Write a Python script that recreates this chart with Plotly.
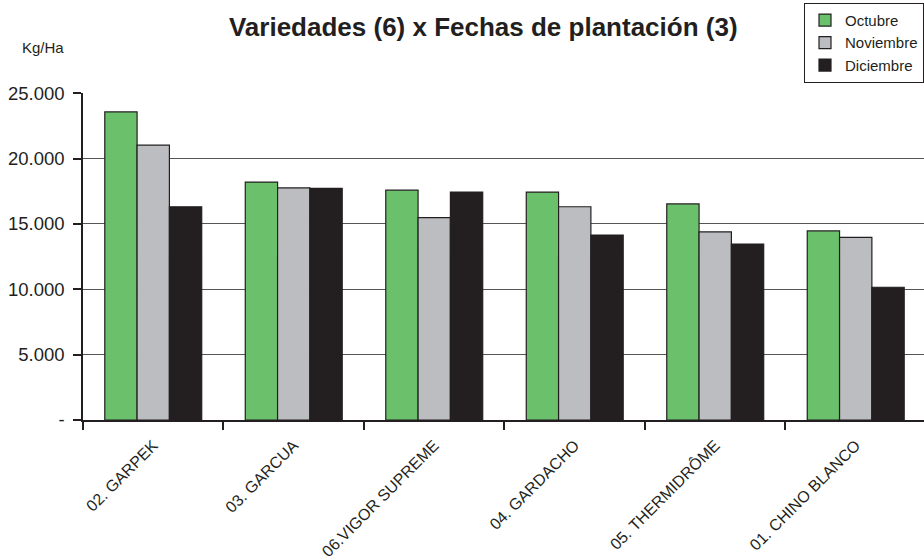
import plotly.graph_objects as go

categories = ["02. GARPEK", "03. GARCUA", "06.VIGOR SUPREME", "04. GARDACHO",
              "05. THERMIDRÔME", "01. CHINO BLANCO"]
octubre = [23580, 18210, 17590, 17440, 16540, 14470]
noviembre = [21030, 17760, 15490, 16320, 14390, 13970]
diciembre = [16320, 17720, 17440, 14160, 13470, 10160]
series_names = ["Octubre", "Noviembre", "Diciembre"]
series_colors = ["#6BC16B", "#BCBDC0", "#231F20"]
ytick_vals = [0, 5000, 10000, 15000, 20000, 25000]
ytick_text = ["-", "5.000", "10.000", "15.000", "20.000", "25.000"]

fig = go.Figure()
for name, vals, col in zip(series_names, [octubre, noviembre, diciembre], series_colors):
    fig.add_trace(go.Bar(
        x=categories, y=vals, name=name,
        marker=dict(color=col, line=dict(color="#231F20", width=1.2)),
    ))

fig.update_layout(
    width=924, height=560,
    margin=dict(l=83, r=0, t=87, b=139),
    paper_bgcolor="white", plot_bgcolor="white",
    barmode="group", bargap=0.31, bargroupgap=0,
    font=dict(family="Liberation Sans, Arial, sans-serif", color="#231F20"),
    title=dict(text="<b>Variedades (6) x Fechas de plantación (3)</b>",
               x=0.523, xanchor="center", y=0.952, yanchor="middle",
               font=dict(size=26, color="#231F20")),
    showlegend=True,
    legend=dict(x=0.8855, xref="paper", y=0.995, yref="container",
                xanchor="left", yanchor="top",
                bordercolor="#231F20", borderwidth=1, bgcolor="white",
                font=dict(size=15), itemwidth=30, tracegroupgap=0,
                entrywidth=0),
    xaxis=dict(
        range=[-0.5, 5.486], showline=True, linecolor="#231F20", linewidth=1.5,
        ticks="outside", tickson="boundaries", ticklen=8, tickcolor="#231F20",
        tickwidth=1.5, tickangle=-45, tickfont=dict(size=16), showgrid=False,
        ticklabelstandoff=8,
    ),
    yaxis=dict(
        range=[0, 25000], tickvals=ytick_vals, ticktext=ytick_text,
        showline=True, linecolor="#231F20", linewidth=1.5,
        ticks="outside", ticklen=8, tickcolor="#231F20", tickwidth=1.5,
        tickfont=dict(size=18.5), showgrid=True, gridcolor="#555555", gridwidth=1.2,
        zeroline=False, ticklabelstandoff=5,
    ),
)
fig.add_annotation(text="Kg/Ha", xref="paper", yref="paper", x=-0.048, y=1.139,
                   xanchor="center", yanchor="middle", showarrow=False,
                   font=dict(size=15, color="#231F20"))
fig.write_html("out.html", config={"displayModeBar": False},
               post_script="document.body.style.margin='0';")
